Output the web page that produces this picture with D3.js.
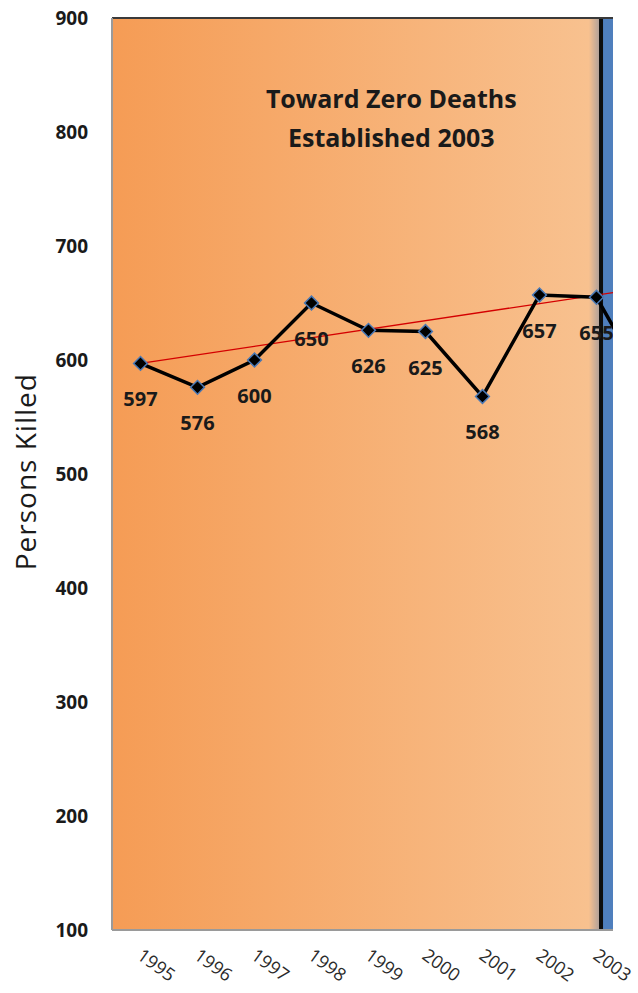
<!DOCTYPE html>
<html>
<head>
<meta charset="utf-8">
<script src="https://cdn.jsdelivr.net/npm/d3@7"></script>
<style>
  body { margin: 0; background: #fff; }
  svg { display: block; font-family: "Open Sans", sans-serif; }
</style>
</head>
<body>
<div id="chart"></div>
<script>
// values
const years = [1995, 1996, 1997, 1998, 1999, 2000, 2001, 2002, 2003, 2004];
const killed = [597, 576, 600, 650, 626, 625, 568, 657, 655, 567];
const xTickYears = [1995, 1996, 1997, 1998, 1999, 2000, 2001, 2002, 2003];
const yTicks = [100, 200, 300, 400, 500, 600, 700, 800, 900];
const trendYears = [1995, 2004];
const trendValues = [597, 664.5];
const tzdYear = 2003.08;
const titleLines = ['Toward Zero Deaths', 'Established 2003'];

function drawChart() {
    const width = 638, height = 993;
    const margin = { top: 18, right: 25, bottom: 63, left: 112 };

    const svg = d3.select('#chart').append('svg')
        .attr('width', width)
        .attr('height', height);

    const x = d3.scaleLinear().domain([1994.5, 2003.29])
        .range([margin.left, width - margin.right]);
    const y = d3.scaleLinear().domain([100, 900])
        .range([height - margin.bottom, margin.top]);

    const defs = svg.append('defs');
    const grad = defs.append('linearGradient').attr('id', 'orange')
        .attr('x1', '0%').attr('x2', '100%').attr('y1', '0%').attr('y2', '0%');
    grad.append('stop').attr('offset', '0%').attr('stop-color', '#f59c55');
    grad.append('stop').attr('offset', '97.5%').attr('stop-color', '#f8c18f');
    grad.append('stop').attr('offset', '100%').attr('stop-color', '#a59c9c');

    defs.append('clipPath').attr('id', 'plot-clip')
        .append('rect')
        .attr('x', x(1994.5)).attr('y', y(900))
        .attr('width', x(2003.29) - x(1994.5))
        .attr('height', y(100) - y(900));

    const plot = svg.append('g').attr('clip-path', 'url(#plot-clip)');

    // background bands
    plot.append('rect')
        .attr('x', x(1994.5)).attr('y', y(900))
        .attr('width', x(tzdYear) - x(1994.5))
        .attr('height', y(100) - y(900))
        .attr('fill', 'url(#orange)');
    plot.append('rect')
        .attr('x', x(tzdYear)).attr('y', y(900))
        .attr('width', x(2004.5) - x(tzdYear))
        .attr('height', y(100) - y(900))
        .attr('fill', '#4f7fbd');

    plot.append('line')
        .attr('x1', x(tzdYear)).attr('x2', x(tzdYear))
        .attr('y1', y(900)).attr('y2', y(100))
        .attr('stroke', '#0d0d0d').attr('stroke-width', 4);

    // title
    plot.append('text')
        .attr('x', x(1999.4)).attr('y', y(821))
        .attr('text-anchor', 'middle')
        .attr('font-size', '25px').attr('font-weight', 'bold')
        .attr('fill', '#1a1a1a')
        .selectAll('tspan').data(titleLines).join('tspan')
        .attr('x', x(1999.4))
        .attr('dy', (d, i) => i === 0 ? 0 : '1.56em')
        .text(d => d);

    // trend line
    plot.append('line')
        .attr('x1', x(trendYears[0])).attr('y1', y(trendValues[0]))
        .attr('x2', x(trendYears[1])).attr('y2', y(trendValues[1]))
        .attr('stroke', '#d40000').attr('stroke-width', 1.3);

    const pts = years.map((yr, i) => ({ year: yr, value: killed[i] }));

    const line = d3.line()
        .x(d => x(d.year))
        .y(d => y(d.value));

    plot.append('path')
        .datum(pts)
        .attr('fill', 'none')
        .attr('stroke', '#000')
        .attr('stroke-width', 3.5)
        .attr('stroke-linejoin', 'miter')
        .attr('d', line);

    plot.selectAll('.marker').data(pts).join('path')
        .attr('class', 'marker')
        .attr('d', d3.symbol().type(d3.symbolSquare).size(95))
        .attr('transform', d => `translate(${x(d.year)},${y(d.value)}) rotate(45)`)
        .attr('fill', '#000')
        .attr('stroke', '#4a78b4')
        .attr('stroke-width', 1.5);

    // only the labelled years that fall inside the visible window
    plot.selectAll('.data-label').data(pts.filter(d => d.year <= 2003)).join('text')
        .attr('class', 'data-label')
        .attr('x', d => x(d.year))
        .attr('y', d => y(d.value) + 43)
        .attr('text-anchor', 'middle')
        .attr('font-size', '20px').attr('font-weight', 'bold')
        .attr('fill', '#1a1a1a')
        .text(d => d.value);

    // frame
    svg.append('line')
        .attr('x1', x(1994.5)).attr('x2', x(2003.29))
        .attr('y1', y(900)).attr('y2', y(900))
        .attr('stroke', '#3a3a3a').attr('stroke-width', 2);
    svg.append('line')
        .attr('x1', x(1994.5)).attr('x2', x(2003.29))
        .attr('y1', y(100)).attr('y2', y(100))
        .attr('stroke', '#9a9a9a').attr('stroke-width', 2);
    svg.append('line')
        .attr('x1', x(1994.5)).attr('x2', x(1994.5))
        .attr('y1', y(900)).attr('y2', y(100))
        .attr('stroke', '#9a9a9a').attr('stroke-width', 2);

    // axes
    const yAxis = svg.append('g')
        .attr('transform', `translate(${margin.left},0)`)
        .call(d3.axisLeft(y).tickValues(yTicks).tickSize(0).tickPadding(24));
    yAxis.select('.domain').remove();
    yAxis.selectAll('text')
        .attr('font-family', '"Open Sans", sans-serif')
        .attr('font-size', '19px').attr('font-weight', 'bold')
        .attr('fill', '#1a1a1a');

    const xAxis = svg.append('g')
        .attr('transform', `translate(0,${y(100)})`)
        .call(d3.axisBottom(x).tickValues(xTickYears).tickSize(0).tickFormat(d3.format('d')));
    xAxis.select('.domain').remove();
    xAxis.selectAll('text')
        .attr('font-family', '"Open Sans", sans-serif')
        .attr('font-size', '18px')
        .attr('fill', '#2a2a2a')
        .attr('text-anchor', 'start')
        .attr('y', 0).attr('dy', 0)
        .attr('transform', 'translate(-5,28) rotate(36)');

    svg.append('text')
        .attr('transform', `translate(36,${y(502)}) rotate(-90)`)
        .attr('text-anchor', 'middle')
        .attr('font-size', '28px')
        .attr('letter-spacing', '1px')
        .attr('fill', '#1a1a1a')
        .text('Persons Killed');
}

drawChart();
</script>
</body>
</html>
